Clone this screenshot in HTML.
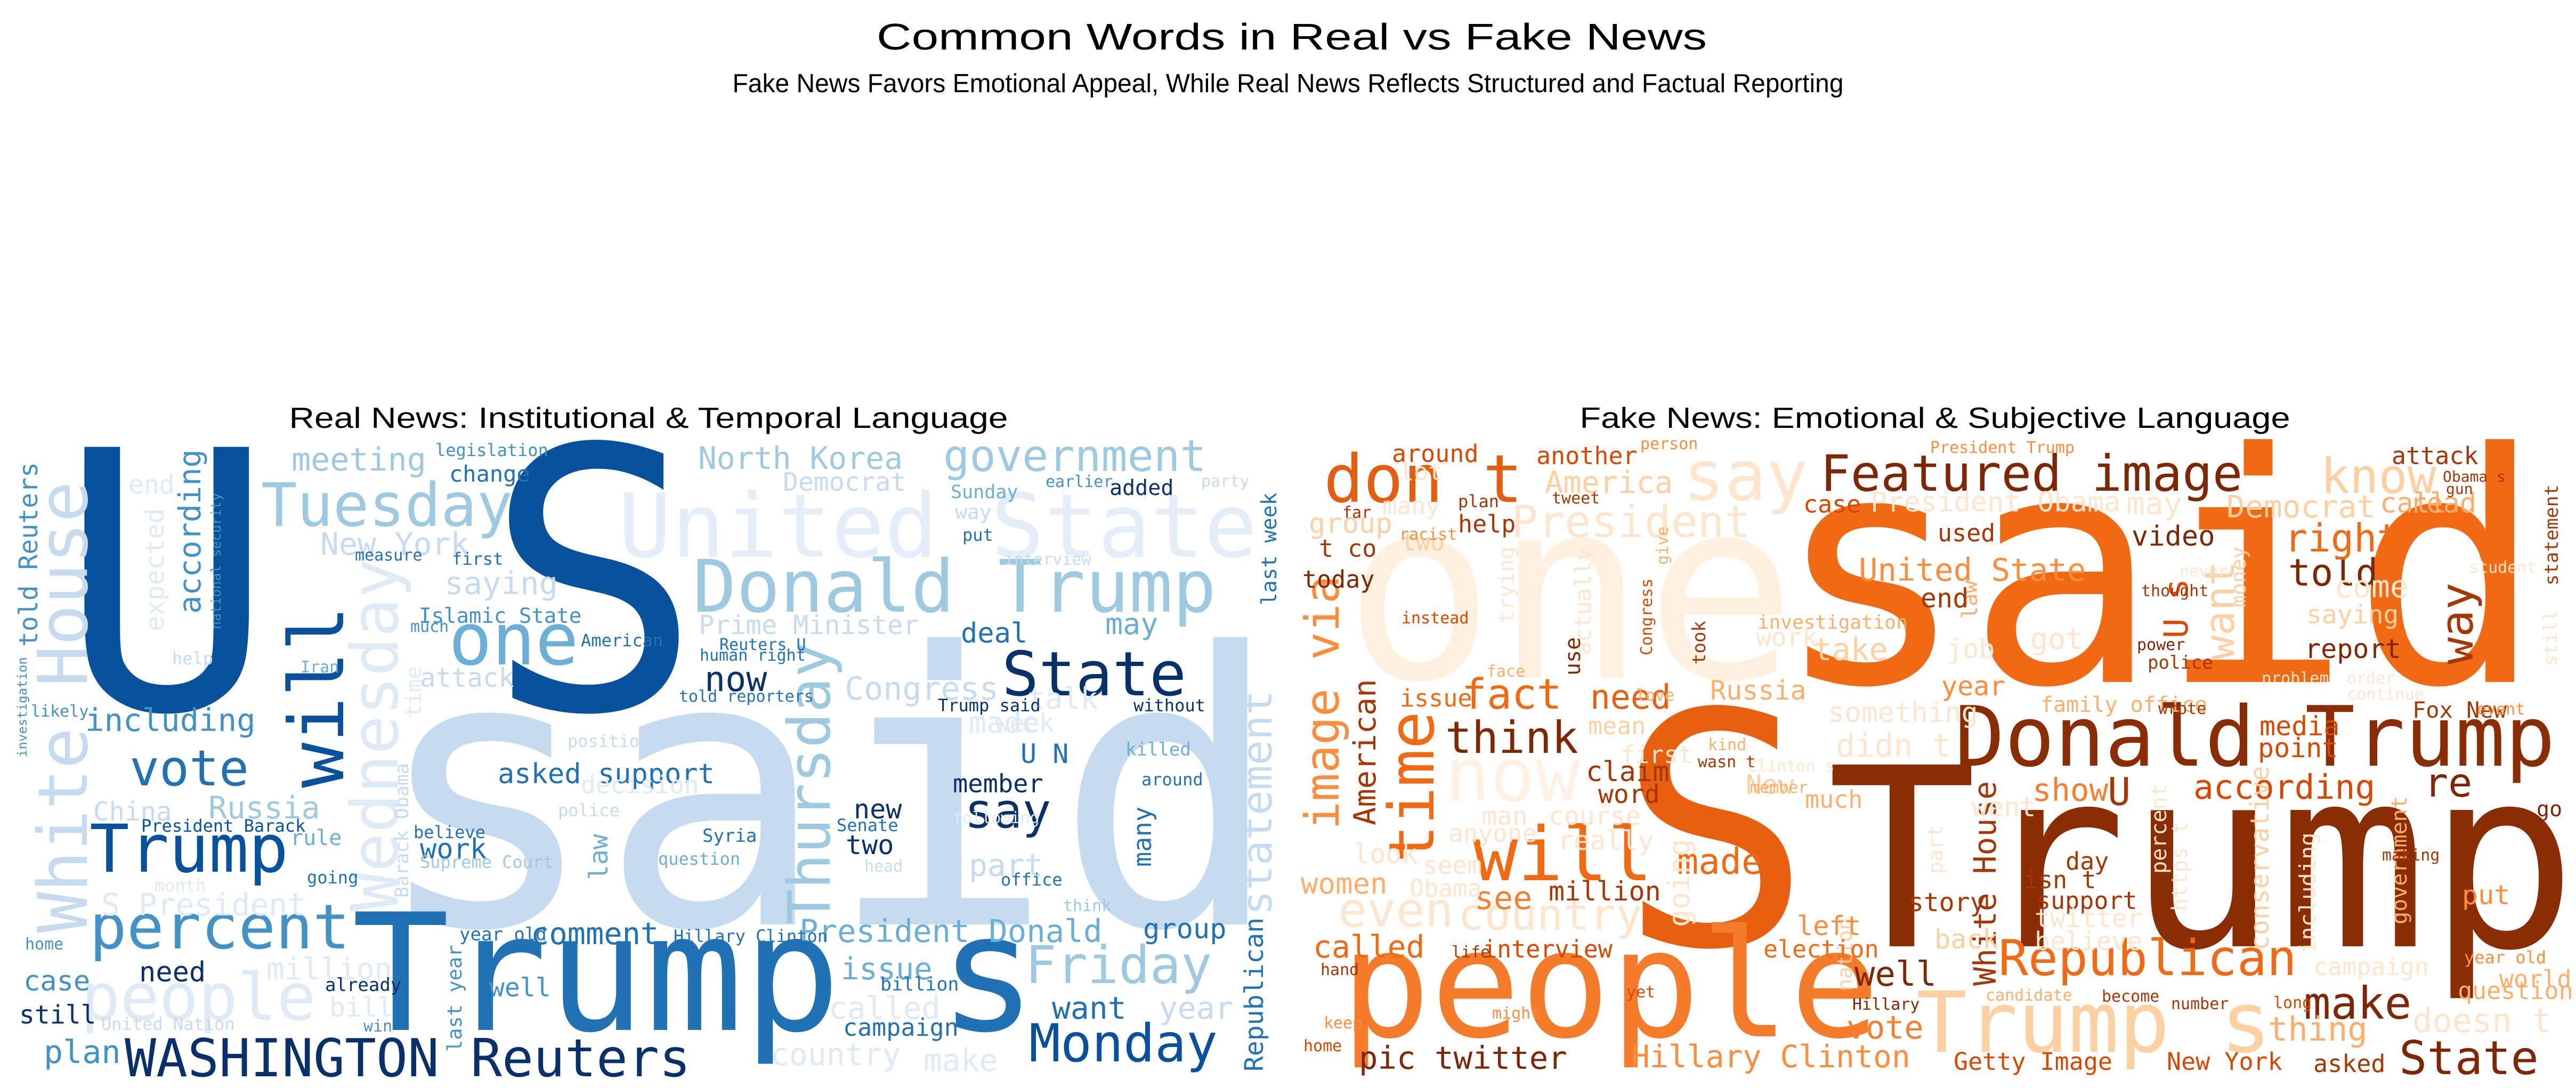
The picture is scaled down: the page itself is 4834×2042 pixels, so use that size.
<!DOCTYPE html>
<html><head><meta charset="utf-8"><title>Common Words in Real vs Fake News</title>
<style>
html,body{margin:0;padding:0;background:#fff;}
svg{display:block;}
.t{font-family:"Liberation Sans","DejaVu Sans",sans-serif;fill:#000;}
.w{font-family:"DejaVu Sans Mono","Liberation Mono",monospace;}
</style></head>
<body>
<svg width="4834" height="2042" viewBox="0 0 4834 2042" xmlns="http://www.w3.org/2000/svg">
<rect width="4834" height="2042" fill="#fff"/>
<text class="t" x="2424" y="93" font-size="70" text-anchor="middle" textLength="1558" lengthAdjust="spacingAndGlyphs">Common Words in Real vs Fake News</text>
<text class="t" x="2417" y="173" font-size="49" text-anchor="middle" textLength="2085" lengthAdjust="spacingAndGlyphs">Fake News Favors Emotional Appeal, While Real News Reflects Structured and Factual Reporting</text>
<text class="t" x="1217" y="803" font-size="55" text-anchor="middle" textLength="1349" lengthAdjust="spacingAndGlyphs">Real News: Institutional &amp; Temporal Language</text>
<text class="t" x="3631" y="803" font-size="55" text-anchor="middle" textLength="1333" lengthAdjust="spacingAndGlyphs">Fake News: Emotional &amp; Subjective Language</text>

<g class="w">
<text x="1160" y="1045" font-size="166" fill="#e3eef9">United State</text>
<text x="697" y="1735" font-size="710" fill="#c6dbef">said</text>
<text x="110" y="1330" font-size="674" fill="#08519c">U</text>
<text x="909" y="1330" font-size="680" fill="#08519c">S</text>
<text x="660" y="1933" font-size="305" fill="#2171b5">Trump s</text>
<text transform="translate(163,1751) rotate(-90)" font-size="128" fill="#c6dbef">White House</text>
<text transform="translate(746,1710) rotate(-90)" font-size="122" fill="#deebf7">Wednesday</text>
<text transform="translate(644,1479) rotate(-90)" font-size="142" fill="#08519c">will</text>
<text x="490" y="987" font-size="112" fill="#9ecae1">Tuesday</text>
<text x="1300" y="1148" font-size="136" fill="#9ecae1">Donald Trump</text>
<text x="1880" y="1305" font-size="115" fill="#08306b">State</text>
<text x="168" y="1780" font-size="116" fill="#4292c6">percent</text>
<text x="152" y="1914" font-size="122" fill="#deebf7">people</text>
<text x="234" y="2020" font-size="98" fill="#08306b">WASHINGTON Reuters</text>
<text x="1931" y="1992" font-size="98" fill="#08519c">Monday</text>
<text x="1924" y="1845" font-size="97" fill="#9ecae1">Friday</text>
<text transform="translate(1557,1735) rotate(-90)" font-size="110" fill="#9ecae1">Thursday</text>
<text transform="translate(2386,1718) rotate(-90)" font-size="78" fill="#c6dbef">statement</text>
<text transform="translate(2370,2011) rotate(-90)" font-size="48" fill="#2171b5">Republican</text>
<text transform="translate(2395,1136) rotate(-90)" font-size="39" fill="#2171b5">last week</text>
<text x="842" y="1247" font-size="135" fill="#6baed6">one</text>
<text x="1770" y="884" font-size="82" fill="#9ecae1">government</text>
<text x="1310" y="880" font-size="58" fill="#9ecae1">North Korea</text>
<text x="1469" y="921" font-size="48" fill="#c6dbef">Democrat</text>
<text x="1311" y="1190" font-size="49" fill="#c6dbef">Prime Minister</text>
<text x="1585" y="1313" font-size="60" fill="#c6dbef">Congress</text>
<text x="547" y="883" font-size="60" fill="#9ecae1">meeting</text>
<text transform="translate(376,1152) rotate(-90)" font-size="57" fill="#4292c6">according</text>
<text transform="translate(70,1214) rotate(-90)" font-size="48" fill="#4292c6">told Reuters</text>
<text transform="translate(414,1181) rotate(-90)" font-size="25" fill="#4292c6">national security</text>
<text transform="translate(50,1421) rotate(-90)" font-size="24" fill="#4292c6">investigation</text>
<text transform="translate(307,1185) rotate(-90)" font-size="48" fill="#deebf7">expected</text>
<text x="160" y="1372" font-size="59" fill="#4292c6">including</text>
<text x="243" y="1474" font-size="93" fill="#2171b5">vote</text>
<text x="168" y="1636" font-size="124" fill="#08519c">Trump</text>
<text x="175" y="1540" font-size="49" fill="#c6dbef">China</text>
<text x="391" y="1536" font-size="58" fill="#9ecae1">Russia</text>
<text x="190" y="1718" font-size="58" fill="#deebf7">S President</text>
<text x="1810" y="1553" font-size="90" fill="#08306b">say</text>
<text x="786" y="1169" font-size="39" fill="#4292c6">Islamic State</text>
<text x="834" y="1115" font-size="59" fill="#c6dbef">saying</text>
<text x="601" y="1041" font-size="58" fill="#c6dbef">New York</text>
<text x="788" y="1289" font-size="49" fill="#c6dbef">attack</text>
<text x="934" y="1470" font-size="52" fill="#2171b5">asked support</text>
<text x="996" y="1772" font-size="57" fill="#2171b5">comment</text>
<text x="1500" y="1768" font-size="59" fill="#6baed6">President Donald</text>
<text x="2145" y="1761" font-size="52" fill="#2171b5">group</text>
<text x="1578" y="1838" font-size="57" fill="#6baed6">issue</text>
<text x="1974" y="1912" font-size="58" fill="#2171b5">want</text>
<text x="2175" y="1912" font-size="58" fill="#c6dbef">year</text>
<text x="1788" y="1487" font-size="47" fill="#08306b">member</text>
<text x="1602" y="1536" font-size="50" fill="#08306b">new</text>
<text x="1587" y="1603" font-size="50" fill="#08306b">two</text>
<text transform="translate(2160,1627) rotate(-90)" font-size="47" fill="#2171b5">many</text>
<text x="1322" y="1297" font-size="65" fill="#08306b">now</text>
<text x="1803" y="1206" font-size="52" fill="#2171b5">deal</text>
<text x="2074" y="1190" font-size="55" fill="#6baed6">may</text>
<text x="44" y="1859" font-size="52" fill="#4292c6">case</text>
<text x="261" y="1842" font-size="52" fill="#08306b">need</text>
<text x="36" y="1921" font-size="48" fill="#08306b">still</text>
<text x="82" y="1995" font-size="60" fill="#4292c6">plan</text>
<text x="500" y="1838" font-size="56" fill="#deebf7">million</text>
<text x="788" y="1611" font-size="52" fill="#2171b5">work</text>
<text transform="translate(1140,1652) rotate(-90)" font-size="48" fill="#6baed6">law</text>
<text transform="translate(766,1685) rotate(-90)" font-size="35" fill="#c6dbef">Barack Obama</text>
<text transform="translate(790,1347) rotate(-90)" font-size="40" fill="#deebf7">time</text>
<text transform="translate(866,1974) rotate(-90)" font-size="37" fill="#4292c6">last year</text>
<text x="1446" y="1999" font-size="58" fill="#deebf7">country</text>
<text x="1733" y="2010" font-size="58" fill="#deebf7">make</text>
<text x="1555" y="1912" font-size="58" fill="#deebf7">called</text>
<text x="1818" y="1644" font-size="58" fill="#c6dbef">part</text>
<text x="1818" y="1375" font-size="55" fill="#deebf7">made</text>
<text x="1928" y="1330" font-size="55" fill="#deebf7">talk</text>
<text x="1652" y="1859" font-size="35" fill="#2171b5">billion</text>
<text x="618" y="1908" font-size="50" fill="#deebf7">bill</text>
<text x="843" y="904" font-size="42" fill="#2171b5">change</text>
<text x="817" y="856" font-size="32" fill="#4292c6">legislation</text>
<text x="2082" y="929" font-size="40" fill="#08306b">added</text>
<text x="1784" y="935" font-size="35" fill="#6baed6">Sunday</text>
<text x="1962" y="914" font-size="30" fill="#4292c6">earlier</text>
<text x="1792" y="974" font-size="38" fill="#c6dbef">way</text>
<text x="1806" y="1015" font-size="32" fill="#2171b5">put</text>
<text x="848" y="1060" font-size="32" fill="#2171b5">first</text>
<text x="666" y="1052" font-size="30" fill="#2171b5">measure</text>
<text x="1090" y="1213" font-size="32" fill="#2171b5">American</text>
<text x="1350" y="1220" font-size="30" fill="#2171b5">Reuters U</text>
<text x="1313" y="1240" font-size="30" fill="#2171b5">human right</text>
<text x="1274" y="1317" font-size="30" fill="#2171b5">told reporters</text>
<text x="1760" y="1335" font-size="32" fill="#08306b">Trump said</text>
<text x="2127" y="1335" font-size="32" fill="#08306b">without</text>
<text x="1915" y="1432" font-size="50" fill="#2171b5">U N</text>
<text x="2112" y="1418" font-size="34" fill="#6baed6">killed</text>
<text x="2142" y="1474" font-size="32" fill="#2171b5">around</text>
<text x="1318" y="1580" font-size="34" fill="#2171b5">Syria</text>
<text x="1264" y="1768" font-size="32" fill="#2171b5">Hillary Clinton</text>
<text x="862" y="1765" font-size="34" fill="#2171b5">year old</text>
<text x="918" y="1870" font-size="48" fill="#4292c6">well</text>
<text x="1582" y="1944" font-size="45" fill="#2171b5">campaign</text>
<text x="610" y="1860" font-size="34" fill="#08306b">already</text>
<text x="190" y="1933" font-size="32" fill="#c6dbef">United Nation</text>
<text x="265" y="1561" font-size="32" fill="#08519c">President Barack</text>
<text x="545" y="1586" font-size="40" fill="#6baed6">rule</text>
<text x="576" y="1658" font-size="32" fill="#2171b5">going</text>
<text x="776" y="1573" font-size="32" fill="#2171b5">believe</text>
<text x="1235" y="1623" font-size="32" fill="#6baed6">question</text>
<text x="788" y="1629" font-size="32" fill="#9ecae1">Supreme Court</text>
<text x="1570" y="1560" font-size="32" fill="#2171b5">Senate</text>
<text x="1878" y="1662" font-size="32" fill="#2171b5">office</text>
<text x="1995" y="1710" font-size="30" fill="#9ecae1">think</text>
<text x="1090" y="1489" font-size="46" fill="#deebf7">decision</text>
<text x="1047" y="1532" font-size="32" fill="#c6dbef">police</text>
<text x="1065" y="1402" font-size="32" fill="#c6dbef">position</text>
<text x="1867" y="1373" font-size="46" fill="#deebf7">week</text>
<text x="1788" y="1545" font-size="30" fill="#deebf7">following</text>
<text x="1622" y="1636" font-size="30" fill="#c6dbef">head</text>
<text x="290" y="1673" font-size="32" fill="#deebf7">month</text>
<text x="47" y="1782" font-size="30" fill="#4292c6">home</text>
<text x="682" y="1936" font-size="30" fill="#4292c6">win</text>
<text x="241" y="926" font-size="48" fill="#deebf7">end</text>
<text x="323" y="1247" font-size="32" fill="#c6dbef">help</text>
<text x="1885" y="1060" font-size="30" fill="#c6dbef">interview</text>
<text x="564" y="1262" font-size="30" fill="#6baed6">Iran</text>
<text x="58" y="1345" font-size="30" fill="#4292c6">likely</text>
<text x="2254" y="913" font-size="30" fill="#c6dbef">party</text>
<text x="770" y="1186" font-size="30" fill="#4292c6">much</text>
</g>

<g class="w">
<text x="2522" y="1272" font-size="470" fill="#fff0e0">one</text>
<text x="3158" y="938" font-size="130" fill="#fee6ce">say</text>
<text x="2836" y="1008" font-size="83" fill="#fee6ce">President</text>
<text x="2712" y="1503" font-size="140" fill="#fff1e3">now</text>
<text x="2511" y="1739" font-size="90" fill="#fee6ce">even</text>
<text x="2736" y="1745" font-size="82" fill="#fee6ce">country</text>
<text x="3329" y="1280" font-size="600" fill="#f16913">said</text>
<text x="3036" y="1772" font-size="605" fill="#e8600f">S</text>
<text x="3596" y="1974" font-size="158" fill="#fdd0a2">Trump s</text>
<text x="3428" y="1776" font-size="468" fill="#8a2c04">Trump</text>
<text x="3668" y="1437" font-size="156" fill="#8a2c04">Donald Trump</text>
<text x="2516" y="1945" font-size="280" fill="#f47b2a">people</text>
<text x="2484" y="942" font-size="124" fill="#e35e10">don t</text>
<text x="3416" y="921" font-size="94" fill="#7f2704">Featured image</text>
<text x="4355" y="925" font-size="90" fill="#fdd0a2">know</text>
<text x="2899" y="925" font-size="57" fill="#fdd0a2">America</text>
<text x="4178" y="971" font-size="58" fill="#fdd0a2">Democrat</text>
<text x="3488" y="1090" font-size="59" fill="#fd8d3c">United State</text>
<text transform="translate(2512,1557) rotate(-90)" font-size="88" fill="#fd8d3c">image via</text>
<text transform="translate(2690,1619) rotate(-90)" font-size="118" fill="#f16913">time</text>
<text transform="translate(2581,1549) rotate(-90)" font-size="57" fill="#a63603">American</text>
<text x="2743" y="1330" font-size="78" fill="#f16913">fact</text>
<text x="2712" y="1413" font-size="83" fill="#7f2704">think</text>
<text x="2764" y="1652" font-size="140" fill="#f16913">will</text>
<text x="3750" y="1830" font-size="93" fill="#f16913">Republican</text>
<text x="4323" y="1912" font-size="84" fill="#7f2704">make</text>
<text x="4502" y="2016" font-size="87" fill="#7f2704">State</text>
<text x="3061" y="2003" font-size="58" fill="#fd8d3c">Hillary Clinton</text>
<text x="2550" y="2006" font-size="59" fill="#7f2704">pic twitter</text>
<text x="2464" y="1797" font-size="58" fill="#f16913">called</text>
<text x="4116" y="1499" font-size="63" fill="#d94801">according</text>
<text x="4549" y="1495" font-size="75" fill="#7f2704">re</text>
<text transform="translate(4640,1247) rotate(-90)" font-size="85" fill="#a63603">way</text>
<text transform="translate(4192,1239) rotate(-90)" font-size="77" fill="#fdd0a2">want</text>
<text transform="translate(4105,1198) rotate(-90)" font-size="62" fill="#d94801">U s</text>
<text x="4294" y="1099" font-size="70" fill="#7f2704">told</text>
<text x="4287" y="1035" font-size="72" fill="#f16913">right</text>
<text x="4000" y="1024" font-size="52" fill="#7f2704">video</text>
<text x="3403" y="1239" font-size="58" fill="#fdd0a2">take</text>
<text x="2984" y="1330" font-size="63" fill="#e8600f">need</text>
<text x="3147" y="1640" font-size="67" fill="#f16913">made</text>
<text x="3480" y="1850" font-size="64" fill="#7f2704">well</text>
<text x="3465" y="1949" font-size="60" fill="#f57f2f">vote</text>
<text transform="translate(3745,1850) rotate(-90)" font-size="58" fill="#a63603">White House</text>
<text x="3814" y="1503" font-size="59" fill="#f57f2f">show</text>
<text x="3955" y="1511" font-size="72" fill="#a63603">U</text>
<text transform="translate(4257,1784) rotate(-90)" font-size="48" fill="#fdd0a2">conservative</text>
<text transform="translate(4516,1735) rotate(-90)" font-size="40" fill="#fdae6b">government</text>
<text transform="translate(4104,1710) rotate(-90)" font-size="40" fill="#fee6ce">https t</text>
<text transform="translate(4065,1640) rotate(-90)" font-size="40" fill="#fee6ce">percent</text>
<text transform="translate(4345,1790) rotate(-90)" font-size="42" fill="#fee6ce">including</text>
<text transform="translate(4800,1099) rotate(-90)" font-size="35" fill="#a63603">statement</text>
<text transform="translate(4798,1250) rotate(-90)" font-size="35" fill="#fee6ce">still</text>
<text transform="translate(3170,1740) rotate(-90)" font-size="55" fill="#fee6ce">going</text>
<text transform="translate(2985,1230) rotate(-90)" font-size="42" fill="#fee6ce">actually</text>
<text transform="translate(2840,1170) rotate(-90)" font-size="40" fill="#fee6ce">trying</text>
<text transform="translate(3475,1860) rotate(-90)" font-size="38" fill="#fdd0a2">nation</text>
<text transform="translate(3645,1640) rotate(-90)" font-size="38" fill="#fee6ce">part</text>
<text transform="translate(3200,1247) rotate(-90)" font-size="34" fill="#a63603">took</text>
<text transform="translate(3130,1060) rotate(-90)" font-size="30" fill="#fdae6b">give</text>
<text transform="translate(3100,1230) rotate(-90)" font-size="30" fill="#d94801">Congress</text>
<text transform="translate(2965,1268) rotate(-90)" font-size="40" fill="#7f2704">use</text>
<text transform="translate(3710,1162) rotate(-90)" font-size="40" fill="#fdae6b">law</text>
<text transform="translate(4214,1140) rotate(-90)" font-size="38" fill="#fdd0a2">money</text>
<text x="4527" y="1347" font-size="42" fill="#a63603">Fox New</text>
<text x="4256" y="1953" font-size="62" fill="#fdae6b">thing</text>
<text x="3666" y="2008" font-size="45" fill="#d94801">Getty Image</text>
<text x="4066" y="2008" font-size="45" fill="#d94801">New York</text>
<text x="4341" y="2012" font-size="45" fill="#a63603">asked</text>
<text x="4527" y="1937" font-size="62" fill="#fee6ce">doesn t</text>
<text x="4612" y="1875" font-size="45" fill="#fdae6b">question</text>
<text x="4341" y="1830" font-size="45" fill="#fee6ce">campaign</text>
<text x="3209" y="1313" font-size="50" fill="#fdae6b">Russia</text>
<text x="2441" y="1677" font-size="54" fill="#fdae6b">women</text>
<text x="2767" y="1706" font-size="60" fill="#f57f2f">see</text>
<text x="2906" y="1690" font-size="50" fill="#a63603">million</text>
<text x="2976" y="1466" font-size="52" fill="#a63603">claim</text>
<text x="2999" y="1507" font-size="48" fill="#a63603">word</text>
<text x="2782" y="1797" font-size="45" fill="#d94801">interview</text>
<text x="3309" y="1797" font-size="45" fill="#f16913">election</text>
<text x="3372" y="1755" font-size="50" fill="#fd8d3c">left</text>
<text x="3821" y="1706" font-size="45" fill="#a63603">support</text>
<text x="3581" y="1710" font-size="48" fill="#a63603">story</text>
<text x="2612" y="867" font-size="45" fill="#d94801">around</text>
<text x="2883" y="871" font-size="45" fill="#d94801">another</text>
<text x="4488" y="871" font-size="45" fill="#a63603">attack</text>
<text x="3384" y="962" font-size="45" fill="#d94801">case</text>
<text x="3636" y="1016" font-size="45" fill="#a63603">used</text>
<text x="2736" y="999" font-size="45" fill="#a63603">help</text>
<text x="2444" y="1103" font-size="45" fill="#7f2704">today</text>
<text x="4325" y="1235" font-size="50" fill="#7f2704">report</text>
<text x="4240" y="1380" font-size="50" fill="#d94801">media</text>
<text x="4237" y="1421" font-size="50" fill="#d94801">point</text>
<text x="3604" y="1140" font-size="50" fill="#a63603">end</text>
<text x="3643" y="1305" font-size="50" fill="#fd8d3c">year</text>
<text x="2456" y="1000" font-size="52" fill="#fdd0a2">group</text>
<text x="4620" y="1697" font-size="50" fill="#fd8d3c">put</text>
<text x="4760" y="1532" font-size="40" fill="#7f2704">go</text>
<text x="2627" y="1326" font-size="45" fill="#f16913">issue</text>
<text x="2475" y="1045" font-size="45" fill="#a63603">t co</text>
<text x="3387" y="1516" font-size="45" fill="#fdae6b">much</text>
<text x="3876" y="1632" font-size="45" fill="#a63603">day</text>
<text x="3798" y="1667" font-size="45" fill="#a63603">isn t</text>
<text x="4380" y="1121" font-size="58" fill="#fee6ce">come</text>
<text x="4328" y="1170" font-size="48" fill="#fdd0a2">saying</text>
<text x="4522" y="962" font-size="52" fill="#fdae6b">read</text>
<text x="4466" y="962" font-size="52" fill="#fdae6b">call</text>
<text x="3990" y="965" font-size="58" fill="#fee6ce">may</text>
<text x="3510" y="960" font-size="52" fill="#fee6ce">President Obama</text>
<text x="3298" y="1180" font-size="36" fill="#fdae6b">investigation</text>
<text x="3295" y="1213" font-size="48" fill="#fee6ce">work</text>
<text x="3653" y="1235" font-size="50" fill="#fee6ce">job</text>
<text x="3810" y="1218" font-size="55" fill="#fee6ce">got</text>
<text x="3829" y="1336" font-size="40" fill="#fdae6b">family office</text>
<text x="3430" y="1355" font-size="52" fill="#fee6ce">something</text>
<text x="3445" y="1420" font-size="60" fill="#fee6ce">didn t</text>
<text x="3280" y="1448" font-size="30" fill="#fee6ce">Clinton s</text>
<text x="3276" y="1490" font-size="50" fill="#fdd0a2">New</text>
<text x="3700" y="1532" font-size="50" fill="#fee6ce">went</text>
<text x="2780" y="1548" font-size="48" fill="#fee6ce">man</text>
<text x="2906" y="1548" font-size="48" fill="#fee6ce">course</text>
<text x="2718" y="1580" font-size="46" fill="#fee6ce">anyone</text>
<text x="2923" y="1595" font-size="50" fill="#fee6ce">really</text>
<text x="2540" y="1620" font-size="50" fill="#fee6ce">look</text>
<text x="2670" y="1640" font-size="46" fill="#fee6ce">seem</text>
<text x="2645" y="1683" font-size="45" fill="#fee6ce">Obama</text>
<text x="3818" y="1740" font-size="48" fill="#fee6ce">twitter</text>
<text x="3818" y="1783" font-size="48" fill="#fee6ce">believe</text>
<text x="3630" y="1780" font-size="50" fill="#fdd0a2">back</text>
<text x="3070" y="1315" font-size="30" fill="#fdae6b">love</text>
<text x="2790" y="1270" font-size="30" fill="#fdae6b">face</text>
<text x="3041" y="1432" font-size="45" fill="#fee6ce">first</text>
<text x="2980" y="1378" font-size="45" fill="#fdd0a2">mean</text>
<text x="2630" y="1033" font-size="45" fill="#fdd0a2">two</text>
<text x="2630" y="1170" font-size="30" fill="#d94801">instead</text>
<text x="2626" y="901" font-size="45" fill="#fee6ce">lot</text>
<text x="2594" y="965" font-size="45" fill="#fee6ce">many</text>
<text x="2736" y="952" font-size="32" fill="#a63603">plan</text>
<text x="2912" y="945" font-size="30" fill="#a63603">tweet</text>
<text x="2519" y="972" font-size="30" fill="#a63603">far</text>
<text x="2626" y="1013" font-size="30" fill="#fd8d3c">racist</text>
<text x="3078" y="843" font-size="30" fill="#fd8d3c">person</text>
<text x="3622" y="850" font-size="30" fill="#fd8d3c">President Trump</text>
<text x="4584" y="904" font-size="28" fill="#a63603">Obama s</text>
<text x="4590" y="927" font-size="28" fill="#a63603">gun</text>
<text x="4018" y="1119" font-size="30" fill="#a63603">thought</text>
<text x="4010" y="1220" font-size="30" fill="#7f2704">power</text>
<text x="4030" y="1255" font-size="34" fill="#a63603">police</text>
<text x="4050" y="1340" font-size="30" fill="#a63603">wrote</text>
<text x="4648" y="1341" font-size="30" fill="#fd8d3c">event</text>
<text x="4470" y="1615" font-size="30" fill="#a63603">making</text>
<text x="4624" y="1808" font-size="32" fill="#fd8d3c">year old</text>
<text x="4690" y="1853" font-size="45" fill="#fdae6b">world</text>
<text x="3726" y="1878" font-size="30" fill="#fdae6b">candidate</text>
<text x="3944" y="1880" font-size="30" fill="#a63603">become</text>
<text x="4074" y="1894" font-size="30" fill="#a63603">number</text>
<text x="4266" y="1892" font-size="30" fill="#d94801">long</text>
<text x="3476" y="1895" font-size="30" fill="#7f2704">Hillary</text>
<text x="3052" y="1872" font-size="30" fill="#d94801">yet</text>
<text x="2800" y="1912" font-size="30" fill="#fd8d3c">might</text>
<text x="2478" y="1830" font-size="30" fill="#a63603">hand</text>
<text x="2484" y="1930" font-size="30" fill="#fd8d3c">keep</text>
<text x="2446" y="1973" font-size="30" fill="#d94801">home</text>
<text x="2724" y="1797" font-size="30" fill="#a63603">life</text>
<text x="3205" y="1408" font-size="30" fill="#fdae6b">kind</text>
<text x="3186" y="1440" font-size="30" fill="#a63603">wasn t</text>
<text x="3284" y="1488" font-size="30" fill="#fdae6b">member</text>
<text x="4090" y="1082" font-size="30" fill="#fee6ce">never</text>
<text x="4633" y="1075" font-size="30" fill="#fee6ce">student</text>
<text x="4244" y="1283" font-size="30" fill="#fee6ce">problem</text>
<text x="4404" y="1283" font-size="30" fill="#fee6ce">order</text>
<text x="4404" y="1313" font-size="30" fill="#fee6ce">continue</text>
</g>
</svg>
</body></html>
